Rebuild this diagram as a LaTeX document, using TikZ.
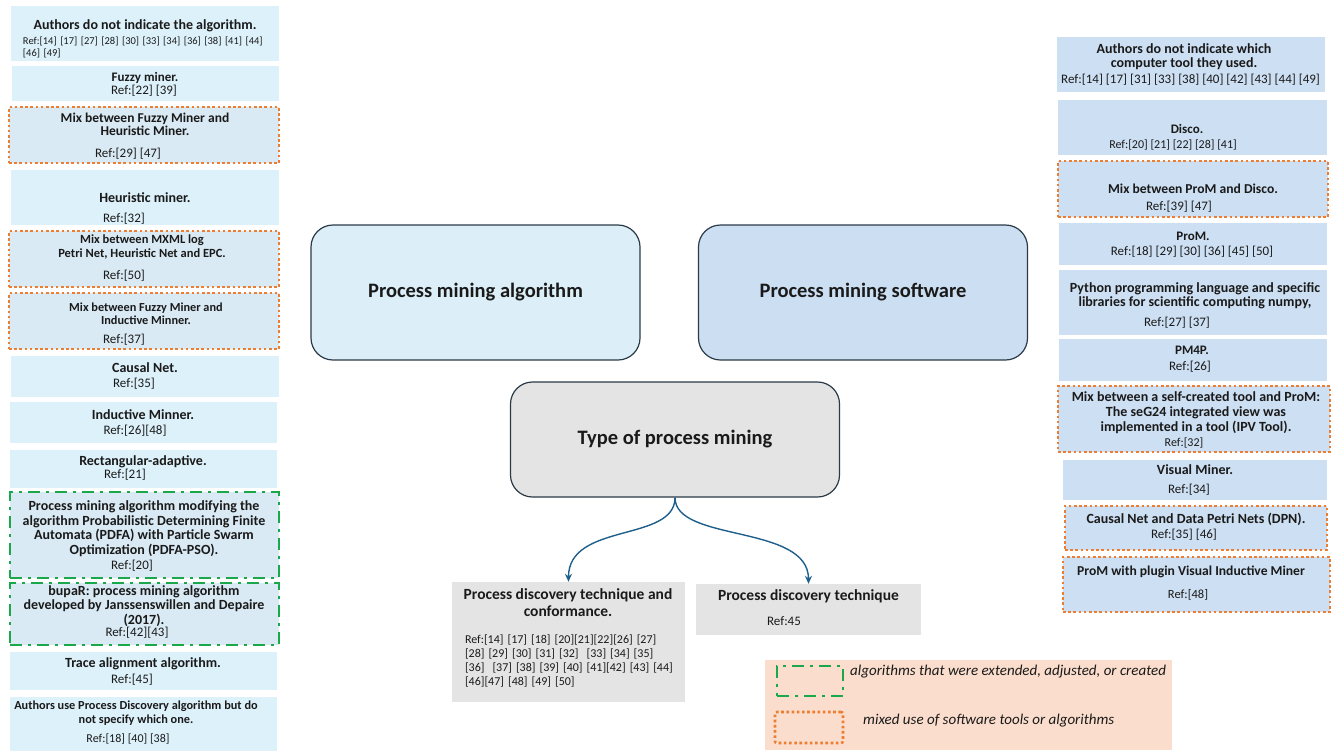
\documentclass[tikz,border=0pt]{standalone}
\usepackage{fontspec}
\setmainfont{Carlito}
\usetikzlibrary{arrows.meta}
\definecolor{pmink}{HTML}{1A1A1A}
\definecolor{pmalg}{HTML}{DDF1FA}
\definecolor{pmmix}{HTML}{D9EAF4}
\definecolor{pmsoft}{HTML}{CDDFF2}
\definecolor{pmalgmain}{HTML}{DCEEF8}
\definecolor{pmsoftmain}{HTML}{CCDEF1}
\definecolor{pmgray}{HTML}{E4E4E4}
\definecolor{pmedge}{HTML}{2B3A47}
\definecolor{pmarrow}{HTML}{1F5F8C}
\definecolor{pmorange}{HTML}{ED7D31}
\definecolor{pmgreen}{HTML}{1AA84B}
\definecolor{pmpeach}{HTML}{FADDCC}
\tikzset{
  pm alg/.style={fill=pmalg, minimum width=268, inner sep=0pt},
  pm soft/.style={fill=pmsoft, minimum width=268, inner sep=0pt},
  pm mix/.style={draw=pmorange, line width=2.6pt, dash pattern=on 2.6pt off 2.6pt},
  pm new/.style={draw=pmgreen, line width=2.6pt, dash pattern=on 12pt off 6pt on 3pt off 6pt},
  pm main/.style={draw=pmedge, line width=1.2pt, rounded corners=22pt,
    minimum width=329, minimum height=135, inner sep=0pt, text=pmink,
    font=\fontsize{20.5}{24}\selectfont\bfseries},
  pm gray/.style={fill=pmgray, inner sep=0pt},
  pm title/.style={font=\fontsize{14}{14.5}\selectfont\bfseries, align=center,
    inner sep=0pt, text=pmink},
  pm short/.style={pm title, font=\fontsize{13}{14.5}\selectfont\bfseries},
  pm ref/.style={font=\fontsize{13}{14}\selectfont, align=center, inner sep=0pt,
    text=pmink},
  pm note/.style={font=\fontsize{15}{17}\selectfont\itshape, inner sep=0pt, text=pmink},
  pm arrow/.style={-{Stealth[length=8pt,width=7pt]}, line width=1.4pt, draw=pmarrow}
}
\begin{document}
\begin{tikzpicture}[x=1pt, y=-1pt]
  \useasboundingbox (0,0) rectangle (1339,750);
  % algorithms
  \node[pm alg, minimum height=55] (a1) at (145,33.5) {};
  \node[pm title] (a1t) at (145,26) {Authors do not indicate the algorithm.};
  \node[pm ref, align=left, text width=246, font=\fontsize{10.5}{11.5}\selectfont] (a1r) at (146,47.5) {Ref:[14] [17] [27] [28] [30] [33] [34] [36] [38] [41] [44]\\{}[46] [49]};
  \node[pm alg, minimum width=267, minimum height=35] (a2) at (145.5,83.5) {};
  \node[pm short] (a2t) at (145,78) {Fuzzy miner.};
  \node[pm ref] (a2r) at (144,91) {Ref:[22] [39]};
  \node[pm alg, pm mix, fill=pmmix, minimum width=270, minimum height=56] (a3) at (144,135) {};
  \node[pm title, font=\fontsize{13.5}{13.5}\selectfont\bfseries] (a3t) at (145,124.5) {Mix between Fuzzy Miner and\\Heuristic Miner.};
  \node[pm ref] (a3r) at (128,154) {Ref:[29] [47]};
  \node[pm alg, minimum height=55] (a4) at (145,197.5) {};
  \node[pm title] (a4t) at (145,198) {Heuristic miner.};
  \node[pm ref] (a4r) at (124,219) {Ref:[32]};
  \node[pm alg, pm mix, fill=pmmix, minimum width=270, minimum height=56] (a5) at (144,259) {};
  \node[pm title, font=\fontsize{12.5}{14}\selectfont\bfseries] (a5t) at (142,247) {Mix between MXML log\\Petri Net, Heuristic Net and EPC.};
  \node[pm ref] (a5r) at (124,276) {Ref:[50]};
  \node[pm alg, pm mix, fill=pmmix, minimum width=270, minimum height=56] (a6) at (144,321) {};
  \node[pm title, font=\fontsize{12.3}{13.5}\selectfont\bfseries] (a6t) at (146,313.5) {Mix between Fuzzy Miner and\\Inductive Minner.};
  \node[pm ref] (a6r) at (124,340) {Ref:[37]};
  \node[pm alg, minimum height=41] (a7) at (145,376.5) {};
  \node[pm title] (a7t) at (145,368) {Causal Net.};
  \node[pm ref] (a7r) at (134,384) {Ref:[35]};
  \node[pm alg, minimum width=267, minimum height=41] (a8) at (143.5,422.5) {};
  \node[pm title] (a8t) at (143,415) {Inductive Minner.};
  \node[pm ref] (a8r) at (135,431) {Ref:[26][48]};
  \node[pm alg, minimum width=267, minimum height=38] (a9) at (143.5,469) {};
  \node[pm title] (a9t) at (143,462) {Rectangular-adaptive.};
  \node[pm ref] (a9r) at (125,475) {Ref:[21]};
  \node[pm alg, pm new, fill=pmmix, minimum width=269, minimum height=86] (a10) at (144.5,535) {};
  \node[pm title] (a10t) at (144,528.5) {Process mining algorithm modifying the\\algorithm Probabilistic Determining Finite\\Automata (PDFA) with Particle Swarm\\Optimization (PDFA-PSO).};
  \node[pm ref] (a10r) at (132,566) {Ref:[20]};
  \node[pm alg, pm new, fill=pmmix, minimum width=269, minimum height=62] (a11) at (144.5,614) {};
  \node[pm title] (a11t) at (144,606) {bupaR: process mining algorithm\\developed by Janssenswillen and Depaire\\(2017).};
  \node[pm ref] (a11r) at (137,633) {Ref:[42][43]};
  \node[pm alg, minimum width=267, minimum height=38] (a12) at (143.5,671) {};
  \node[pm title] (a12t) at (143,664) {Trace alignment algorithm.};
  \node[pm ref] (a12r) at (132,680) {Ref:[45]};
  \node[pm alg, minimum width=267, minimum height=54] (a13) at (143.5,724) {};
  \node[pm title, font=\fontsize{12.3}{14}\selectfont\bfseries] (a13t) at (136,713) {Authors use Process Discovery algorithm but do\\not specify which one.};
  \node[pm ref, font=\fontsize{12}{13}\selectfont] (a13r) at (128,739) {Ref:[18] [40] [38]};
  % software
  \node[pm soft, minimum height=55] (s1) at (1191,64.5) {};
  \node[pm title, font=\fontsize{14}{13.5}\selectfont\bfseries] (s1t) at (1184,56.5) {Authors do not indicate which\\computer tool they used.};
  \node[pm ref] (s1r) at (1190.5,80) {Ref:[14] [17] [31] [33] [38] [40] [42] [43] [44] [49]};
  \node[pm soft, minimum width=269, minimum height=55] (s2) at (1192.5,127.5) {};
  \node[pm short] (s2t) at (1187,129) {Disco.};
  \node[pm ref, font=\fontsize{12}{13}\selectfont] (s2r) at (1173,145) {Ref:[20] [21] [22] [28] [41]};
  \node[pm soft, pm mix, minimum width=270, minimum height=56] (s3) at (1193,189) {};
  \node[pm title, font=\fontsize{13.6}{14}\selectfont\bfseries] (s3t) at (1193,189) {Mix between ProM and Disco.};
  \node[pm ref] (s3r) at (1179,207) {Ref:[39] [47]};
  \node[pm soft, minimum height=42] (s4) at (1193,244) {};
  \node[pm short] (s4t) at (1193,236) {ProM.};
  \node[pm ref] (s4r) at (1192,252) {Ref:[18] [29] [30] [36] [45] [50]};
  \node[pm soft, minimum height=65] (s5) at (1193,302.5) {};
  \node[pm title] (s5t) at (1195,296) {Python programming language and specific\\libraries for scientific computing numpy,};
  \node[pm ref] (s5r) at (1177,323) {Ref:[27] [37]};
  \node[pm soft, minimum height=42] (s6) at (1193,360) {};
  \node[pm short] (s6t) at (1192,350) {PM4P.};
  \node[pm ref] (s6r) at (1190,367) {Ref:[26]};
  \node[pm soft, pm mix, minimum width=272, minimum height=66] (s7) at (1194,419) {};
  \node[pm title, font=\fontsize{14}{15}\selectfont\bfseries] (s7t) at (1196,413) {Mix between a self-created tool and ProM:\\The seG24 integrated view was\\implemented in a tool (IPV Tool).};
  \node[pm ref, font=\fontsize{12}{13}\selectfont] (s7r) at (1184,443) {Ref:[32]};
  \node[pm soft, minimum width=264, minimum height=40] (s8) at (1195,480) {};
  \node[pm title] (s8t) at (1195,470) {Visual Miner.};
  \node[pm ref] (s8r) at (1189,490) {Ref:[34]};
  \node[pm soft, pm mix, minimum width=262, minimum height=44] (s9) at (1196,528) {};
  \node[pm title] (s9t) at (1196,519) {Causal Net and Data Petri Nets (DPN).};
  \node[pm ref] (s9r) at (1184,535) {Ref:[35] [46]};
  \node[pm soft, pm mix, minimum width=267, minimum height=55] (s10) at (1196.5,584.5) {};
  \node[pm title, font=\fontsize{13.6}{14}\selectfont\bfseries] (s10t) at (1191,572) {ProM with plugin Visual Inductive Miner};
  \node[pm ref, font=\fontsize{12.5}{13}\selectfont] (s10r) at (1188,595) {Ref:[48]};
  % centre
  \node[pm main, fill=pmalgmain] (alg) at (475.5,292.5) {Process mining algorithm};
  \node[pm main, fill=pmsoftmain] (soft) at (863,292.5) {Process mining software};
  \node[pm main, fill=pmgray, minimum height=115] (type) at (675,439.5) {Type of process mining};
  \node[pm gray, minimum width=233, minimum height=120] (disc) at (568.5,642) {};
  \node[pm title, font=\fontsize{15.5}{17}\selectfont\bfseries] (disct) at (568,602.5) {Process discovery technique and\\conformance.};
  \node[pm ref, align=left, text width=218, font=\fontsize{12}{14}\selectfont] (discr) at (574,661) {Ref:[14] [17] [18] [20][21][22][26] [27]\\{}[28] [29] [30] [31] [32] \ [33] [34] [35]\\{}[36] \ [37] [38] [39] [40] [41][42] [43] [44]\\{}[46][47] [48] [49] [50]};
  \node[pm gray, minimum width=225, minimum height=51] (pdt) at (808.5,609.5) {};
  \node[pm title, font=\fontsize{15.5}{17}\selectfont\bfseries] (pdtt) at (808.5,596) {Process discovery technique};
  \node[pm ref] (pdtr) at (784,621) {Ref:45};
  \draw[pm arrow] (type.south) .. controls +(0,45) and +(0,-60) .. (disc.north);
  \draw[pm arrow] (type.south) .. controls +(0,45) and +(0,-60) .. (pdt.north);
  % legend
  \node[fill=pmpeach, minimum width=407, minimum height=90, inner sep=0pt] (legend) at (968.5,705) {};
  \node[pm new, minimum width=66, minimum height=30, inner sep=0pt] (legnew) at (810,681) {};
  \node[pm mix, rounded corners=2pt, minimum width=68, minimum height=31, inner sep=0pt] (legmix) at (809,727.5) {};
  \node[pm note, anchor=west] (legnewt) at (850,672) {algorithms that were extended, adjusted, or created};
  \node[pm note, anchor=west] (legmixt) at (863,721) {mixed use of software tools or algorithms};
\end{tikzpicture}
\end{document}
